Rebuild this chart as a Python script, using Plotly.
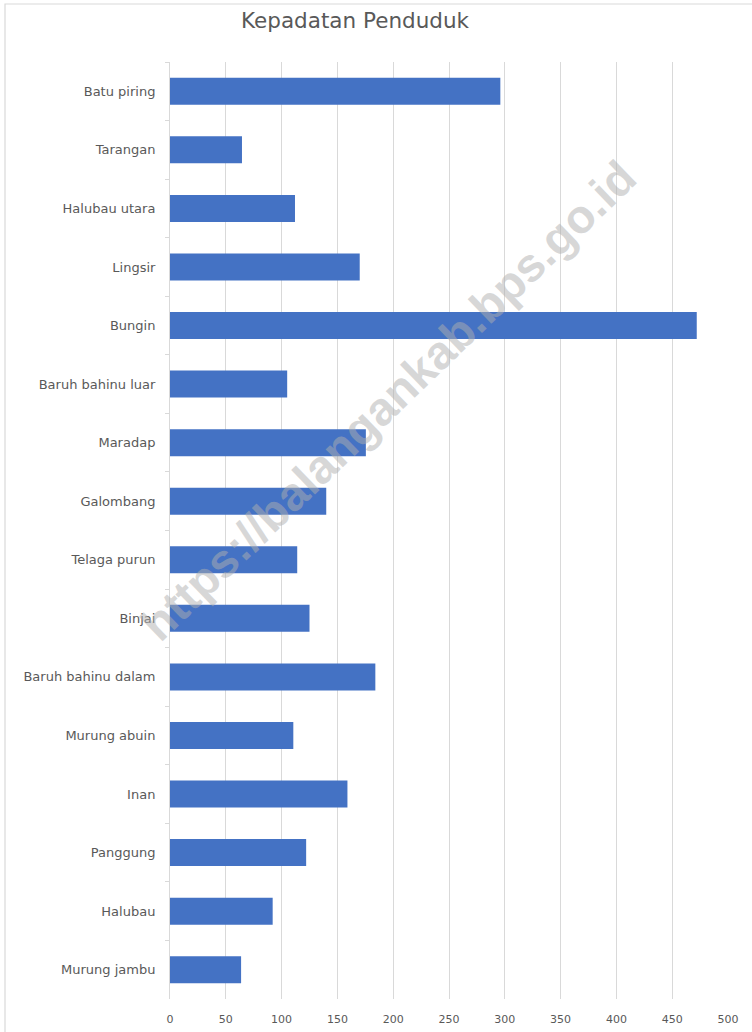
import plotly.graph_objects as go

categories = ["Batu piring", "Tarangan", "Halubau utara", "Lingsir", "Bungin",
              "Baruh bahinu luar", "Maradap", "Galombang", "Telaga purun", "Binjai",
              "Baruh bahinu dalam", "Murung abuin", "Inan", "Panggung", "Halubau",
              "Murung jambu"]
values = [296, 64.5, 112, 170, 472, 105, 175.5, 140, 114, 125, 184, 110.5, 159, 122, 92, 63.7]
x_ticks = [0, 50, 100, 150, 200, 250, 300, 350, 400, 450, 500]

W, H = 752, 1032
L, R, T, B = 170, 24, 62, 33
PW, PH = W - L - R, H - T - B

fig = go.Figure(go.Bar(
    x=values, y=categories, orientation="h",
    marker=dict(color="#4472C4", line=dict(width=0)),
    width=0.46,
))

grey = "#595959"
fig.update_layout(
    width=W, height=H,
    margin=dict(l=L, r=R, t=T, b=B),
    paper_bgcolor="white", plot_bgcolor="white",
    showlegend=False,
    font=dict(family="DejaVu Sans", color=grey, size=11),
    title=dict(text="Kepadatan Penduduk", x=355 / W, xanchor="center",
               xref="container",
               y=1 - 20 / H, yanchor="middle", yref="container",
               font=dict(family="DejaVu Sans", size=21.5, color=grey)),
    xaxis=dict(range=[0, 500], tickvals=x_ticks, showgrid=True,
               gridcolor="#d9d9d9", gridwidth=1, zeroline=False,
               showline=False, ticks="", tickfont=dict(size=11, color=grey),
               ticklabelstandoff=12, fixedrange=True, automargin=False),
    yaxis=dict(autorange="reversed", showline=True, linecolor="#d9d9d9",
               linewidth=1, ticks="outside", tickson="boundaries", ticklen=4,
               tickcolor="#d9d9d9", tickfont=dict(size=13, color=grey),
               ticklabelstandoff=11, showgrid=False, automargin=False,
               fixedrange=True),
)

# outer chart border (left/top visible)
fig.add_shape(type="rect", xref="paper", yref="paper",
              x0=(5 - L) / PW, x1=(W + 10 - L) / PW,
              y0=(H - B - (H + 10)) / PH, y1=(H - B - 4) / PH,
              line=dict(color="#d9d9d9", width=1.2), fillcolor="rgba(0,0,0,0)",
              layer="below")

# watermark
fig.add_annotation(text="https://balangankab.bps.go.id", xref="paper", yref="paper",
                   x=(388 - L) / PW, y=(H - B - 400) / PH,
                   showarrow=False, textangle=-44,
                   font=dict(family="Liberation Sans", size=47, weight="bold",
                             color="rgba(175,175,175,0.5)"),
                   xanchor="center", yanchor="middle")

fig.write_html("out.html", config={"displayModeBar": False},
               post_script="document.body.style.margin='0';")
